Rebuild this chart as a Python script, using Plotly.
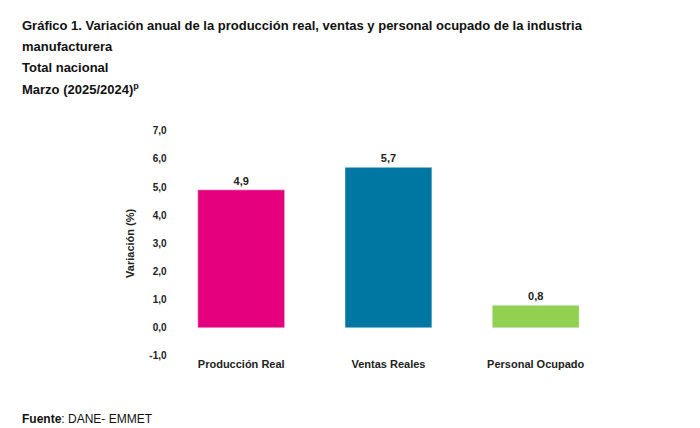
import plotly.graph_objects as go

categories = ["Producción Real", "Ventas Reales", "Personal Ocupado"]
values = [4.9, 5.7, 0.8]
colors = ["#E5007D", "#0076A3", "#92D050"]
tick_vals = [-1, 0, 1, 2, 3, 4, 5, 6, 7]
tick_text = ["-1,0", "0,0", "1,0", "2,0", "3,0", "4,0", "5,0", "6,0", "7,0"]

fig = go.Figure(go.Bar(
    x=categories, y=values, marker_color=colors,
    text=["<b>" + f"{v:.1f}".replace(".", ",") + "</b>" for v in values],
    textposition="outside", textfont=dict(size=11, color="#222", family="Liberation Sans"),
    cliponaxis=False,
))
fig.update_layout(
    width=700, height=428, margin=dict(l=0, r=0, t=0, b=0),
    plot_bgcolor="white", paper_bgcolor="white", showlegend=False, bargap=0.41,
    font=dict(family="Liberation Sans", color="#222"),
    xaxis=dict(domain=[0.228, 0.859], showline=False, ticks="",
               tickvals=categories, ticktext=["<b>" + c + "</b>" for c in categories],
               tickfont=dict(size=11)),
    yaxis=dict(domain=[0.18, 0.72], range=[-1, 7], tickvals=tick_vals,
               ticktext=["<b>" + t + "</b>" for t in tick_text],
               showgrid=False, zeroline=False, tickfont=dict(size=10),
               title=dict(text="<b>Variación (%)</b>", font=dict(size=11), standoff=12)),
)
title_lines = [
    ("<b>Gráfico 1. Variación anual de la producción real, ventas y personal ocupado de la industria</b>", 12),
    ("<b>manufacturera</b>", 33),
    ("<b>Total nacional</b>", 55),
    ("<b>Marzo (2025/2024)<sup>p</sup></b>", 77),
]
for t, y in title_lines:
    fig.add_annotation(text=t, x=12/700, y=1 - y/428, xref="paper", yref="paper",
                       xanchor="left", yanchor="middle", showarrow=False,
                       font=dict(size=13, color="#111"))
fig.add_annotation(text="<b>Fuente</b>: DANE- EMMET", x=12/700, y=1 - 416/428, xref="paper",
                   yref="paper", xanchor="left", yanchor="middle", showarrow=False,
                   font=dict(size=12, color="#111"))
fig.write_html("out.html")
